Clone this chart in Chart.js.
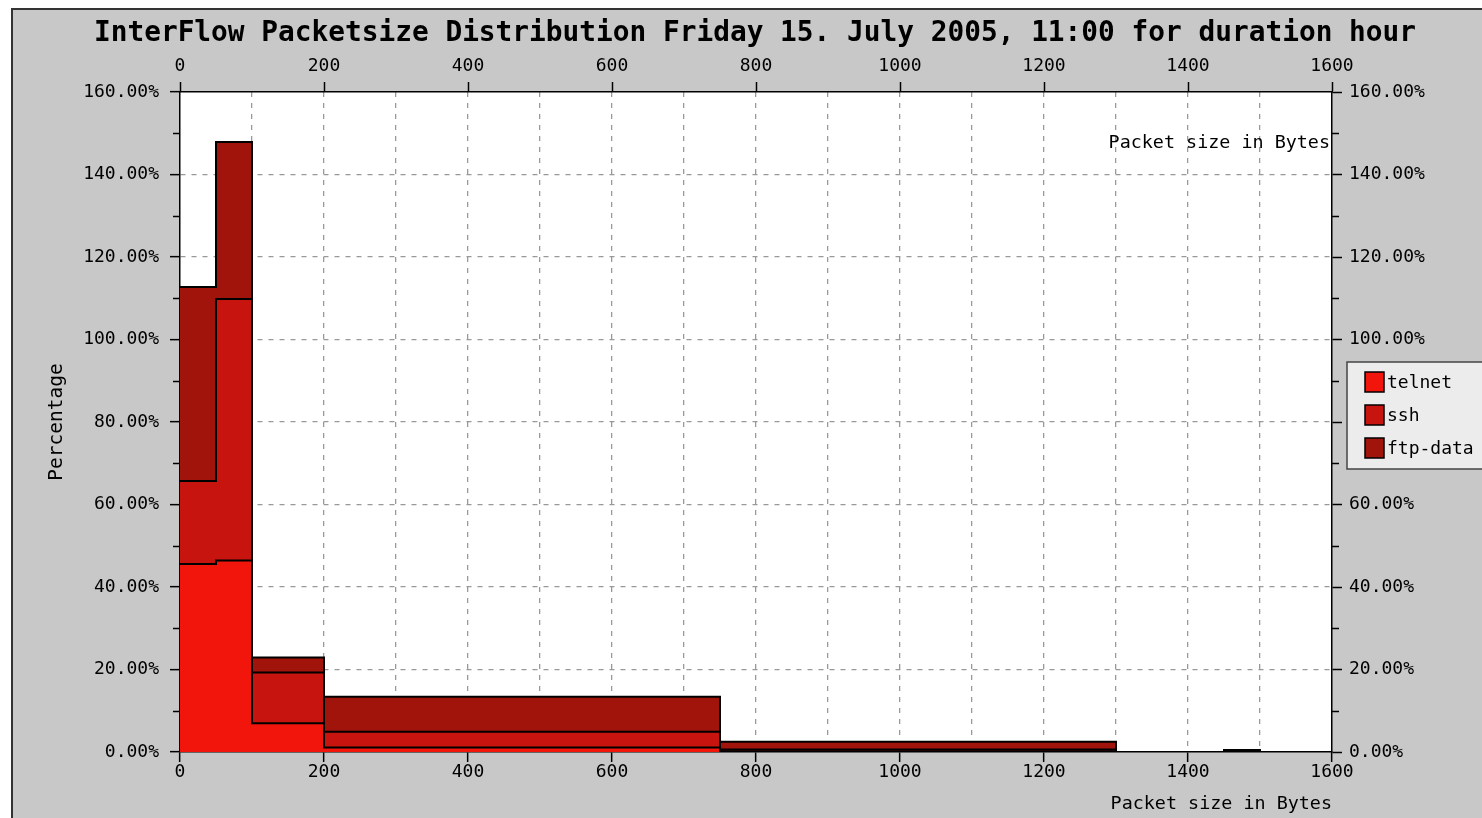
<!DOCTYPE html>
<html>
<head>
<meta charset="utf-8">
<title>InterFlow Packetsize Distribution</title>
<script src="https://cdn.jsdelivr.net/npm/chart.js@4.4.1/dist/chart.umd.min.js"></script>
<style>
  html, body { margin: 0; padding: 0; background: #fff; overflow: hidden; }
  canvas { display: block; }
</style>
</head>
<body>
<canvas id="sizeChart" width="1482" height="818"></canvas>
<script>
// bins of packet size (bytes), left edges, last value closes the last bin
const binEdges = [0, 50, 100, 200, 750, 1300, 1450, 1500];
// percentages per bin
const telnet = [45.6, 46.4, 7.0, 1.1, 0.2, 0, 0.1];
const ssh = [20.1, 63.4, 12.3, 3.8, 0.4, 0, 0.1];
const ftpData = [47.0, 38.1, 3.6, 8.5, 1.9, 0, 0.3];
const xTicks = [0, 200, 400, 600, 800, 1000, 1200, 1400, 1600];
const yTicks = [0, 20, 40, 60, 80, 100, 120, 140, 160];

const chartTitle = 'InterFlow Packetsize Distribution Friday 15. July 2005, 11:00 for duration hour';
const mono = 'DejaVu Sans Mono';

// step points: value of a bin starts at its left edge, drop to 0 at the end
function stepPoints(values) {
  const pts = values.map((v, i) => ({ x: binEdges[i], y: v }));
  pts.push({ x: binEdges[binEdges.length - 1], y: 0 });
  return pts;
}

function gridColor(ctx, lo, hi) {
  const v = ctx.tick ? ctx.tick.value : null;
  return (v === lo || v === hi) ? 'rgba(0,0,0,0)' : '#999';
}

// page frame: white strip, dark line, grey panel, white plot area
const framePlugin = {
  id: 'frame',
  beforeDraw(chart) {
    const c = chart.ctx;
    const a = chart.chartArea;
    c.save();
    c.fillStyle = '#fff';
    c.fillRect(0, 0, chart.width, chart.height);
    c.fillStyle = '#333';
    c.fillRect(11, 8, chart.width, chart.height);
    c.fillStyle = '#c8c8c8';
    c.fillRect(13, 10, chart.width, chart.height);
    c.fillStyle = '#fff';
    c.fillRect(a.left, a.top, a.right - a.left, a.bottom - a.top);

    c.fillStyle = '#000';
    c.font = 'bold 27.8px "' + mono + '"';
    c.textAlign = 'center';
    c.textBaseline = 'middle';
    c.fillText(chartTitle, 755, 34);
    c.restore();
  }
};

// minor ticks, inner axis label and legend box
const extrasPlugin = {
  id: 'extras',
  afterDraw(chart) {
    const c = chart.ctx;
    const a = chart.chartArea;
    const y = chart.scales.y;
    c.save();
    c.strokeStyle = '#000';
    c.lineWidth = 1.5;
    for (let v = 10; v < 160; v += 20) {
      const py = Math.round(y.getPixelForValue(v)) + 0.5;
      c.beginPath();
      c.moveTo(a.left - 7, py); c.lineTo(a.left, py);
      c.moveTo(a.right, py); c.lineTo(a.right + 7, py);
      c.stroke();
    }

    c.fillStyle = '#000';
    c.font = '18.4px "' + mono + '"';
    c.textAlign = 'right';
    c.textBaseline = 'middle';
    c.fillText('Packet size in Bytes', a.right - 2, 143);

    // legend
    c.font = '18px "' + mono + '"';
    c.fillStyle = '#ececec';
    c.fillRect(1347, 362, 150, 107);
    c.strokeStyle = '#444';
    c.lineWidth = 1.5;
    c.strokeRect(1347, 362, 150, 107);
    c.textAlign = 'left';
    chart.data.datasets.forEach((ds, i) => {
      const top = 372 + i * 33;
      c.fillStyle = ds.backgroundColor;
      c.fillRect(1365, top, 19, 20);
      c.strokeStyle = '#000';
      c.strokeRect(1365, top, 19, 20);
      c.fillStyle = '#000';
      c.fillText(ds.label, 1387, top + 11);
    });
    c.restore();
  }
};

const ctx = document.getElementById('sizeChart').getContext('2d');
new Chart(ctx, {
  type: 'line',
  data: {
    datasets: [
      {
        label: 'telnet',
        data: stepPoints(telnet),
        backgroundColor: '#f1150c',
        borderColor: '#000',
        borderWidth: 2,
        stepped: true,
        fill: 'origin',
        pointRadius: 0
      },
      {
        label: 'ssh',
        data: stepPoints(ssh),
        backgroundColor: '#c8140e',
        borderColor: '#000',
        borderWidth: 2,
        stepped: true,
        fill: '-1',
        pointRadius: 0
      },
      {
        label: 'ftp-data',
        data: stepPoints(ftpData),
        backgroundColor: '#a0140b',
        borderColor: '#000',
        borderWidth: 2,
        stepped: true,
        fill: '-1',
        pointRadius: 0
      }
    ]
  },
  options: {
    responsive: false,
    animation: false,
    layout: { padding: 0 },
    plugins: {
      legend: { display: false },
      tooltip: { enabled: false },
      filler: { drawTime: 'beforeDatasetsDraw' },
      title: { display: false }
    },
    scales: {
      x: {
        type: 'linear',
        position: 'bottom',
        min: 0,
        max: 1600,
        afterBuildTicks: (s) => {
          s.ticks = [];
          for (let v = 0; v <= 1600; v += 100) s.ticks.push({ value: v });
        },
        ticks: {
          autoSkip: false,
          maxRotation: 0,
          padding: 0,
          color: '#000',
          font: { family: mono, size: 18 },
          callback: (v) => (xTicks.includes(v) ? String(v) : '')
        },
        grid: {
          color: (c) => gridColor(c, 0, 1600),
          lineWidth: 1.3,
          tickLength: 10,
          tickWidth: 1.5,
          tickColor: (c) => (xTicks.includes(c.tick.value) ? '#000' : 'rgba(0,0,0,0)')
        },
        border: { color: '#000', width: 1.5, dash: [5, 6] },
        title: {
          display: true,
          text: 'Packet size in Bytes',
          align: 'end',
          color: '#000',
          font: { family: mono, size: 18.4 },
          padding: { top: 0, bottom: 3 }
        },
        afterFit: (s) => { s.height = 66; }
      },
      x2: {
        type: 'linear',
        position: 'top',
        min: 0,
        max: 1600,
        afterBuildTicks: (s) => { s.ticks = xTicks.map(v => ({ value: v })); },
        ticks: {
          autoSkip: false,
          maxRotation: 0,
          padding: 5,
          color: '#000',
          font: { family: mono, size: 18 },
          callback: (v) => String(v)
        },
        grid: { drawOnChartArea: false, tickLength: 10, tickWidth: 1.5, tickColor: '#000' },
        border: { color: '#000', width: 1.5 },
        afterFit: (s) => { s.height = 92; }
      },
      y: {
        type: 'linear',
        position: 'left',
        stacked: true,
        min: 0,
        max: 160,
        afterBuildTicks: (s) => { s.ticks = yTicks.map(v => ({ value: v })); },
        ticks: {
          padding: 11,
          color: '#000',
          font: { family: mono, size: 18 },
          callback: (v) => v.toFixed(2) + '%'
        },
        grid: {
          color: (c) => gridColor(c, 0, 160),
          lineWidth: 1.3,
          tickLength: 10,
          tickWidth: 1.5,
          tickColor: '#000'
        },
        border: { color: '#000', width: 1.5, dash: [5, 6] },
        title: {
          display: true,
          text: 'Percentage',
          color: '#000',
          font: { family: mono, size: 19.5 },
          padding: { top: 45, bottom: 0 }
        },
        afterFit: (s) => { s.width = 180; }
      },
      y2: {
        type: 'linear',
        position: 'right',
        min: 0,
        max: 160,
        afterBuildTicks: (s) => { s.ticks = yTicks.map(v => ({ value: v })); },
        ticks: {
          padding: 7,
          color: '#000',
          font: { family: mono, size: 18 },
          callback: (v) => v.toFixed(2) + '%'
        },
        grid: { drawOnChartArea: false, tickLength: 10, tickWidth: 1.5, tickColor: '#000' },
        border: { color: '#000', width: 1.5 },
        afterFit: (s) => { s.width = 150; }
      }
    }
  },
  plugins: [framePlugin, extrasPlugin]
});
</script>
</body>
</html>
